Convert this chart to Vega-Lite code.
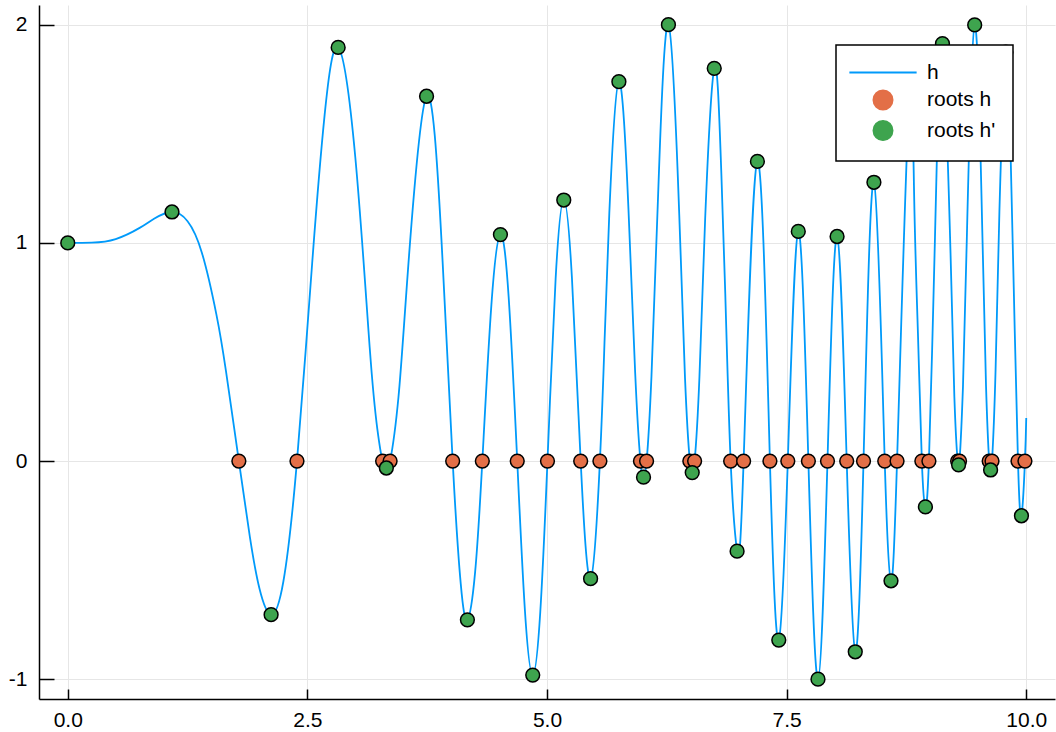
{
  "$schema": "https://vega.github.io/schema/vega-lite/v6.json",
  "width": 1016,
  "height": 694,
  "autosize": {"type": "none"},
  "padding": {"left": 39, "top": 5, "right": 1, "bottom": 33},
  "background": "white",
  "config": {
    "font": "Liberation Sans",
    "view": {"stroke": null},
    "axis": {
      "labelFont": "Liberation Sans",
      "labelFontSize": 21,
      "labelColor": "black",
      "domainColor": "black",
      "domainWidth": 1.5,
      "tickColor": "black",
      "tickWidth": 1.5,
      "gridColor": "#e6e6e6",
      "gridWidth": 1,
      "title": null
    }
  },
  "datasets": {
    "line": [
      {"x": 0, "y": 1, "series": "h"},
      {"x": 0.25, "y": 1.0013, "series": "h"},
      {"x": 0.5, "y": 1.0176, "series": "h"},
      {"x": 0.75, "y": 1.0687, "series": "h"},
      {"x": 0.9, "y": 1.1107, "series": "h"},
      {"x": 1.0875, "y": 1.1416, "series": "h"},
      {"x": 1.25, "y": 1.0994, "series": "h"},
      {"x": 1.4, "y": 0.9541, "series": "h"},
      {"x": 1.55, "y": 0.6737, "series": "h"},
      {"x": 1.65, "y": 0.4144, "series": "h"},
      {"x": 1.7852, "y": 0, "series": "h"},
      {"x": 1.9, "y": -0.3475, "series": "h"},
      {"x": 2.0, "y": -0.5836, "series": "h"},
      {"x": 2.1215, "y": -0.7038, "series": "h"},
      {"x": 2.25, "y": -0.5504, "series": "h"},
      {"x": 2.3915, "y": 0, "series": "h"},
      {"x": 2.55, "y": 0.9066, "series": "h"},
      {"x": 2.68, "y": 1.5862, "series": "h"},
      {"x": 2.8212, "y": 1.8957, "series": "h"},
      {"x": 3.0, "y": 1.3922, "series": "h"},
      {"x": 3.15, "y": 0.5215, "series": "h"},
      {"x": 3.23, "y": 0.1469, "series": "h"},
      {"x": 3.285, "y": 0, "series": "h"},
      {"x": 3.324, "y": -0.0315, "series": "h"},
      {"x": 3.363, "y": 0, "series": "h"},
      {"x": 3.45, "y": 0.2915, "series": "h"},
      {"x": 3.55, "y": 0.8785, "series": "h"},
      {"x": 3.7433, "y": 1.6719, "series": "h"},
      {"x": 3.9, "y": 1.0048, "series": "h"},
      {"x": 4.0159, "y": 0, "series": "h"},
      {"x": 4.1, "y": -0.5617, "series": "h"},
      {"x": 4.1695, "y": -0.7272, "series": "h"},
      {"x": 4.25, "y": -0.509, "series": "h"},
      {"x": 4.3253, "y": 0, "series": "h"},
      {"x": 4.42, "y": 0.7173, "series": "h"},
      {"x": 4.5141, "y": 1.038, "series": "h"},
      {"x": 4.6, "y": 0.7516, "series": "h"},
      {"x": 4.6895, "y": 0, "series": "h"},
      {"x": 4.77, "y": -0.6869, "series": "h"},
      {"x": 4.8512, "y": -0.9804, "series": "h"},
      {"x": 4.93, "y": -0.6899, "series": "h"},
      {"x": 5.0049, "y": 0, "series": "h"},
      {"x": 5.09, "y": 0.8356, "series": "h"},
      {"x": 5.175, "y": 1.1964, "series": "h"},
      {"x": 5.26, "y": 0.8407, "series": "h"},
      {"x": 5.3514, "y": 0, "series": "h"},
      {"x": 5.4547, "y": -0.5388, "series": "h"},
      {"x": 5.5519, "y": 0, "series": "h"},
      {"x": 5.6, "y": 0.5457, "series": "h"},
      {"x": 5.65, "y": 1.1352, "series": "h"},
      {"x": 5.75, "y": 1.7388, "series": "h"},
      {"x": 5.85, "y": 1.1528, "series": "h"},
      {"x": 5.92, "y": 0.4041, "series": "h"},
      {"x": 5.975, "y": 0, "series": "h"},
      {"x": 6.007, "y": -0.0734, "series": "h"},
      {"x": 6.039, "y": 0, "series": "h"},
      {"x": 6.09, "y": 0.3895, "series": "h"},
      {"x": 6.16, "y": 1.2289, "series": "h"},
      {"x": 6.2668, "y": 1.9997, "series": "h"},
      {"x": 6.38, "y": 1.1267, "series": "h"},
      {"x": 6.44, "y": 0.3791, "series": "h"},
      {"x": 6.49, "y": 0, "series": "h"},
      {"x": 6.5151, "y": -0.0523, "series": "h"},
      {"x": 6.54, "y": 0, "series": "h"},
      {"x": 6.59, "y": 0.3822, "series": "h"},
      {"x": 6.65, "y": 1.1093, "series": "h"},
      {"x": 6.7449, "y": 1.7998, "series": "h"},
      {"x": 6.81, "y": 1.4272, "series": "h"},
      {"x": 6.86, "y": 0.7668, "series": "h"},
      {"x": 6.9159, "y": 0, "series": "h"},
      {"x": 6.9832, "y": -0.4125, "series": "h"},
      {"x": 7.0513, "y": 0, "series": "h"},
      {"x": 7.1951, "y": 1.3734, "series": "h"},
      {"x": 7.3257, "y": 0, "series": "h"},
      {"x": 7.4182, "y": -0.8199, "series": "h"},
      {"x": 7.5123, "y": 0, "series": "h"},
      {"x": 7.6217, "y": 1.0525, "series": "h"},
      {"x": 7.727, "y": 0, "series": "h"},
      {"x": 7.8272, "y": -0.9993, "series": "h"},
      {"x": 7.9263, "y": 0, "series": "h"},
      {"x": 8.0264, "y": 1.0293, "series": "h"},
      {"x": 8.1269, "y": 0, "series": "h"},
      {"x": 8.2161, "y": -0.8736, "series": "h"},
      {"x": 8.3022, "y": 0, "series": "h"},
      {"x": 8.4107, "y": 1.2777, "series": "h"},
      {"x": 8.5236, "y": 0, "series": "h"},
      {"x": 8.5889, "y": -0.5483, "series": "h"},
      {"x": 8.6521, "y": 0, "series": "h"},
      {"x": 8.7763, "y": 1.6337, "series": "h"},
      {"x": 8.83, "y": 1.2256, "series": "h"},
      {"x": 8.87, "y": 0.5855, "series": "h"},
      {"x": 8.9108, "y": 0, "series": "h"},
      {"x": 8.9479, "y": -0.2096, "series": "h"},
      {"x": 8.9845, "y": 0, "series": "h"},
      {"x": 9.03, "y": 0.7132, "series": "h"},
      {"x": 9.07, "y": 1.4303, "series": "h"},
      {"x": 9.1259, "y": 1.9129, "series": "h"},
      {"x": 9.21, "y": 0.9534, "series": "h"},
      {"x": 9.25, "y": 0.2946, "series": "h"},
      {"x": 9.2842, "y": 0, "series": "h"},
      {"x": 9.2941, "y": -0.0169, "series": "h"},
      {"x": 9.304, "y": 0, "series": "h"},
      {"x": 9.34, "y": 0.3431, "series": "h"},
      {"x": 9.38, "y": 1.0178, "series": "h"},
      {"x": 9.4621, "y": 1.9986, "series": "h"},
      {"x": 9.54, "y": 1.0813, "series": "h"},
      {"x": 9.58, "y": 0.3497, "series": "h"},
      {"x": 9.6132, "y": 0, "series": "h"},
      {"x": 9.628, "y": -0.0406, "series": "h"},
      {"x": 9.6428, "y": 0, "series": "h"},
      {"x": 9.68, "y": 0.4173, "series": "h"},
      {"x": 9.72, "y": 1.1441, "series": "h"},
      {"x": 9.787, "y": 1.874, "series": "h"},
      {"x": 9.83, "y": 1.5329, "series": "h"},
      {"x": 9.87, "y": 0.7872, "series": "h"},
      {"x": 9.9138, "y": 0, "series": "h"},
      {"x": 9.95, "y": -0.2503, "series": "h"},
      {"x": 9.9863, "y": 0, "series": "h"},
      {"x": 10, "y": 0.1977, "series": "h"}
    ],
    "roots": [
      {"x": 1.7852, "y": 0, "series": "roots h"},
      {"x": 2.3915, "y": 0, "series": "roots h"},
      {"x": 3.285, "y": 0, "series": "roots h"},
      {"x": 3.363, "y": 0, "series": "roots h"},
      {"x": 4.0159, "y": 0, "series": "roots h"},
      {"x": 4.3253, "y": 0, "series": "roots h"},
      {"x": 4.6895, "y": 0, "series": "roots h"},
      {"x": 5.0049, "y": 0, "series": "roots h"},
      {"x": 5.3514, "y": 0, "series": "roots h"},
      {"x": 5.5519, "y": 0, "series": "roots h"},
      {"x": 5.975, "y": 0, "series": "roots h"},
      {"x": 6.039, "y": 0, "series": "roots h"},
      {"x": 6.49, "y": 0, "series": "roots h"},
      {"x": 6.54, "y": 0, "series": "roots h"},
      {"x": 6.9159, "y": 0, "series": "roots h"},
      {"x": 7.0513, "y": 0, "series": "roots h"},
      {"x": 7.3257, "y": 0, "series": "roots h"},
      {"x": 7.5123, "y": 0, "series": "roots h"},
      {"x": 7.727, "y": 0, "series": "roots h"},
      {"x": 7.9263, "y": 0, "series": "roots h"},
      {"x": 8.1269, "y": 0, "series": "roots h"},
      {"x": 8.3022, "y": 0, "series": "roots h"},
      {"x": 8.5236, "y": 0, "series": "roots h"},
      {"x": 8.6521, "y": 0, "series": "roots h"},
      {"x": 8.9108, "y": 0, "series": "roots h"},
      {"x": 8.9845, "y": 0, "series": "roots h"},
      {"x": 9.2842, "y": 0, "series": "roots h"},
      {"x": 9.304, "y": 0, "series": "roots h"},
      {"x": 9.6132, "y": 0, "series": "roots h"},
      {"x": 9.6428, "y": 0, "series": "roots h"},
      {"x": 9.9138, "y": 0, "series": "roots h"},
      {"x": 9.9863, "y": 0, "series": "roots h"},
      {"x": 0, "y": 1, "series": "roots h'"},
      {"x": 1.0875, "y": 1.1416, "series": "roots h'"},
      {"x": 2.1215, "y": -0.7038, "series": "roots h'"},
      {"x": 2.8212, "y": 1.8957, "series": "roots h'"},
      {"x": 3.324, "y": -0.0315, "series": "roots h'"},
      {"x": 3.7433, "y": 1.6719, "series": "roots h'"},
      {"x": 4.1695, "y": -0.7272, "series": "roots h'"},
      {"x": 4.5141, "y": 1.038, "series": "roots h'"},
      {"x": 4.8512, "y": -0.9804, "series": "roots h'"},
      {"x": 5.175, "y": 1.1964, "series": "roots h'"},
      {"x": 5.4547, "y": -0.5388, "series": "roots h'"},
      {"x": 5.75, "y": 1.7388, "series": "roots h'"},
      {"x": 6.007, "y": -0.0734, "series": "roots h'"},
      {"x": 6.2668, "y": 1.9997, "series": "roots h'"},
      {"x": 6.5151, "y": -0.0523, "series": "roots h'"},
      {"x": 6.7449, "y": 1.7998, "series": "roots h'"},
      {"x": 6.9832, "y": -0.4125, "series": "roots h'"},
      {"x": 7.1951, "y": 1.3734, "series": "roots h'"},
      {"x": 7.4182, "y": -0.8199, "series": "roots h'"},
      {"x": 7.6217, "y": 1.0525, "series": "roots h'"},
      {"x": 7.8272, "y": -0.9993, "series": "roots h'"},
      {"x": 8.0264, "y": 1.0293, "series": "roots h'"},
      {"x": 8.2161, "y": -0.8736, "series": "roots h'"},
      {"x": 8.4107, "y": 1.2777, "series": "roots h'"},
      {"x": 8.5889, "y": -0.5483, "series": "roots h'"},
      {"x": 8.7763, "y": 1.6337, "series": "roots h'"},
      {"x": 8.9479, "y": -0.2096, "series": "roots h'"},
      {"x": 9.1259, "y": 1.9129, "series": "roots h'"},
      {"x": 9.2941, "y": -0.0169, "series": "roots h'"},
      {"x": 9.4621, "y": 1.9986, "series": "roots h'"},
      {"x": 9.628, "y": -0.0406, "series": "roots h'"},
      {"x": 9.787, "y": 1.874, "series": "roots h'"},
      {"x": 9.95, "y": -0.2503, "series": "roots h'"}
    ]
  },
  "layer": [
    {
      "data": {"name": "line"},
      "mark": {"type": "line", "interpolate": "natural", "strokeWidth": 1.8},
      "encoding": {
        "x": {
          "field": "x", "type": "quantitative",
          "scale": {"domain": [-0.3, 10.3], "nice": false, "zero": false},
          "axis": {"values": [0, 2.5, 5, 7.5, 10], "format": ".1f", "tickSize": -10, "labelPadding": 20}
        },
        "y": {
          "field": "y", "type": "quantitative",
          "scale": {"domain": [-1.09, 2.09], "nice": false, "zero": false},
          "axis": {"values": [-1, 0, 1, 2], "format": "d", "labelExpr": "replace(datum.label, '\u2212', '-')", "tickSize": -15, "labelPadding": 27}
        },
        "color": {
          "field": "series", "type": "nominal",
          "scale": {"domain": ["h", "roots h", "roots h'"], "range": ["#009AFA", "#E36F47", "#3EA44E"]},
          "legend": {
            "title": null,
            "orient": "none",
            "legendX": 797,
            "legendY": 40,
            "padding": 17,
            "rowPadding": 3.5,
            "fillColor": "white",
            "strokeColor": "black",
            "symbolSize": 380,
            "symbolOffset": 19.5,
            "labelOffset": 33.5,
            "labelFont": "Liberation Sans",
            "labelFontSize": 21,
            "labelColor": "black",
            "encode": {
              "legend": {"update": {"strokeWidth": {"value": 1.5}}},
              "symbols": {
                "update": {
                  "shape": {"signal": "datum.value === 'h' ? 'M-3.45,0H3.45' : 'circle'"},
                  "fill": {"signal": "datum.value === 'h' ? 'transparent' : (datum.value === 'roots h' ? '#E36F47' : '#3EA44E')"},
                  "stroke": {"signal": "datum.value === 'h' ? '#009AFA' : 'black'"},
                  "strokeWidth": {"signal": "datum.value === 'h' ? 2 : 1.5"},
                  "opacity": {"value": 1}
                }
              }
            }
          }
        }
      }
    },
    {
      "data": {"name": "roots"},
      "mark": {"type": "point", "filled": true, "stroke": "black", "strokeWidth": 1.5, "size": 190, "opacity": 1},
      "encoding": {
        "x": {"field": "x", "type": "quantitative"},
        "y": {"field": "y", "type": "quantitative"},
        "color": {"field": "series", "type": "nominal"}
      }
    }
  ]
}
